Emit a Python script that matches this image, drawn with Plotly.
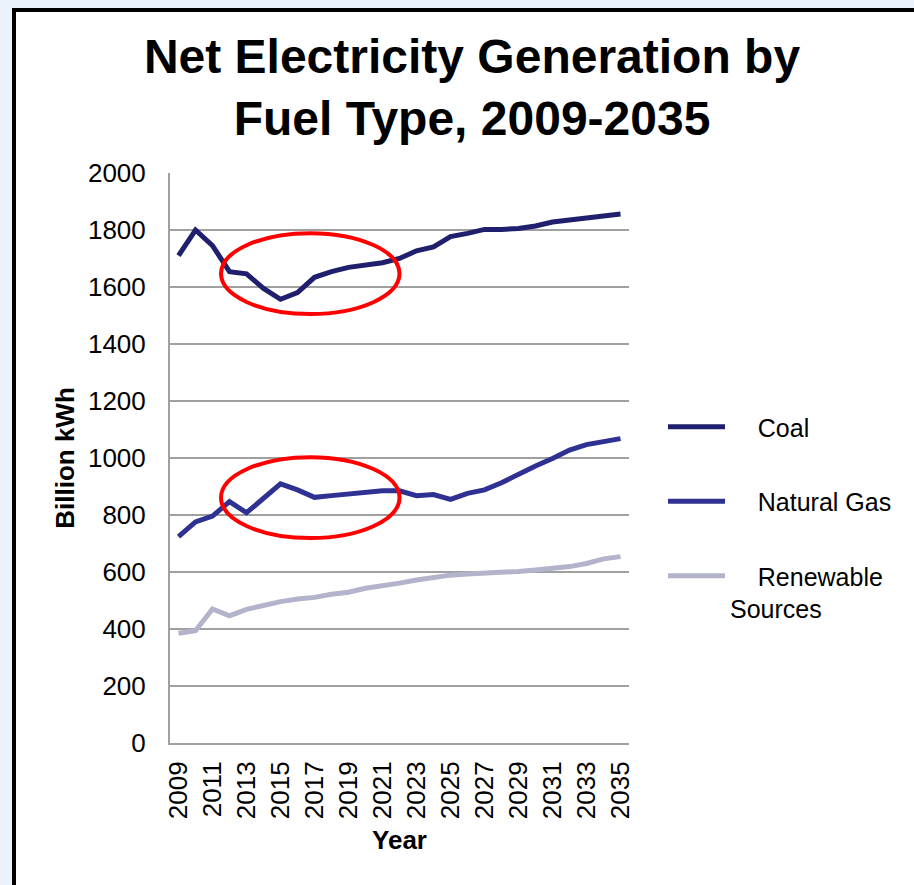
import plotly.graph_objects as go

# Net generation by fuel type, billion kWh
years = list(range(2009, 2036))
coal = [1710, 1800, 1745, 1654, 1646, 1595, 1557, 1580, 1634, 1654, 1669, 1677, 1685, 1700,
        1727, 1741, 1777, 1788, 1802, 1802, 1805, 1814, 1828, 1835, 1842, 1849, 1856]
natural_gas = [724, 776, 796, 847, 808, 858, 909, 888, 862, 868, 874, 876, 885, 885,
               868, 872, 855, 876, 888, 913, 944, 972, 998, 1028, 1047, 1058, 1068]
renewables = [385, 394, 470, 446, 469, 484, 496, 505, 511, 522, 529, 543, 551, 561,
              572, 581, 589, 593, 595, 601, 602, 607, 611, 619, 630, 646, 654]

series_names = ["Coal", "Natural Gas", "Renewable<br>Sources"]
series_colors = ["#1f1f6e", "#2e3192", "#b3b3cc"]
year_ticks = years[::2]
y_ticks = list(range(0, 2001, 200))

FONT = "Liberation Sans, Arial, sans-serif"
W, H = 914, 885
L, R, T, B = 170, 629, 173, 743  # plot area in pixels


def px_x(p):
    return (p - L) / (R - L)


def px_y(p):
    return (B - p) / (B - T)


NB = "\u00a0"
fig = go.Figure()
for i, (name, vals, col) in enumerate(zip(series_names, [coal, natural_gas, renewables], series_colors)):
    fig.add_trace(go.Scatter(
        x=years, y=vals, mode="lines", name=NB * 4 + name, legendgroup=str(i),
        line=dict(color=col, width=5),
    ))

# white panel with black frame
fig.add_shape(type="rect", xref="paper", yref="paper",
              x0=px_x(14), x1=px_x(930), y0=px_y(900), y1=px_y(10),
              line=dict(color="black", width=4), fillcolor="white", layer="below")

# highlight ellipses
for y0, y1 in [(1505, 1789), (719, 1003)]:
    fig.add_shape(type="circle", xref="x", yref="y",
                  x0=2011.5, x1=2022.0, y0=y0, y1=y1,
                  line=dict(color="#ff0000", width=4))

fig.update_layout(
    width=W, height=H,
    margin=dict(l=L, r=W - R, t=T, b=H - B, pad=0, autoexpand=False),
    paper_bgcolor="#ecf2f9",
    plot_bgcolor="white",
    font=dict(family=FONT, size=26, color="black"),
    title=dict(text="<b>Net Electricity Generation by<br>Fuel Type, 2009-2035</b>",
               font=dict(size=48, family=FONT, color="black"),
               x=472 / W, xanchor="center", y=1 - 73 / H, yanchor="middle"),
    showlegend=True,
    legend=dict(xref="container", yref="container",
                x=663 / W, xanchor="left", y=1 - 404 / H, yanchor="top",
                font=dict(size=25, family=FONT), tracegroupgap=39,
                itemwidth=57, valign="top", bgcolor="rgba(0,0,0,0)"),
    xaxis=dict(range=[2008.5, 2035.5], tickmode="array", tickvals=year_ticks,
               ticktext=[str(y) for y in year_ticks], tickangle=-90,
               showgrid=False, showline=True, linecolor="#a0a0a0", linewidth=2,
               ticks="", ticklabelstandoff=6, zeroline=False,
               title=dict(text="<b>Year</b>", font=dict(size=26), standoff=13)),
    yaxis=dict(range=[0, 2000], tickmode="array", tickvals=y_ticks,
               showgrid=True, gridcolor="#a0a0a0", gridwidth=2,
               showline=True, linecolor="#a0a0a0", linewidth=2,
               ticks="", ticklabelstandoff=17, zeroline=False,
               title=dict(text="<b>Billion kWh</b>", font=dict(size=26), standoff=6)),
)

fig.write_html("out.html")
